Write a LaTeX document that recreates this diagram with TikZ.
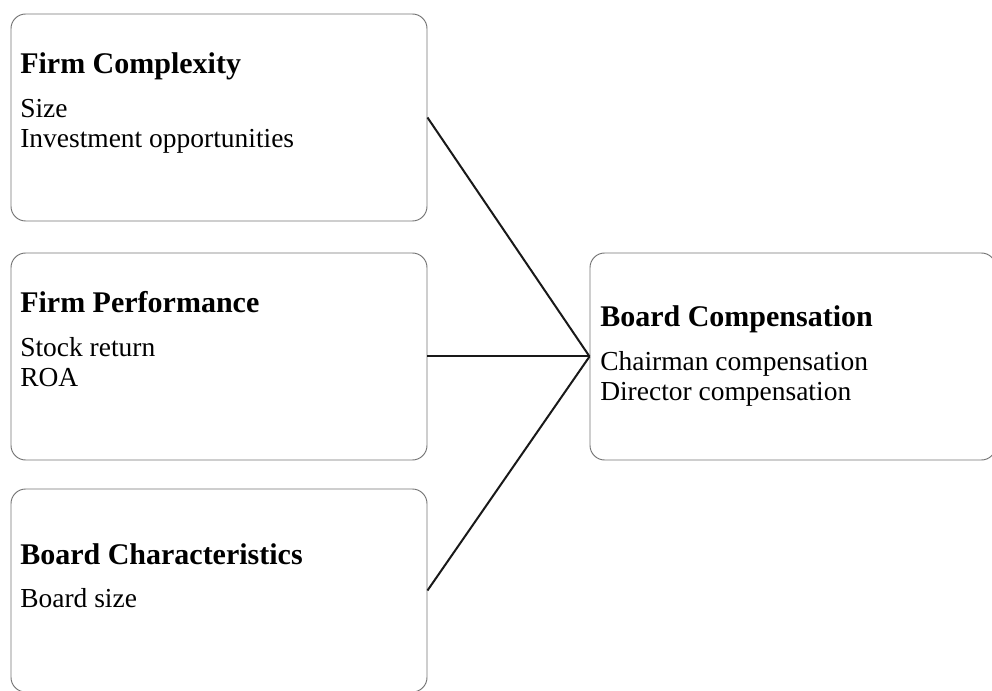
\documentclass[tikz,border=0pt]{standalone}
\usepackage{fontspec}
\setmainfont{Liberation Serif}
\usetikzlibrary{positioning}

\tikzset{
  factor/.style={draw=black!55, line width=0.7pt, rounded corners=11pt, inner sep=0pt,
    minimum width=312pt, minimum height=155.25pt},
  head/.style={anchor=base west, inner sep=0pt, font=\fontsize{22.5}{26}\selectfont\bfseries},
  item/.style={anchor=base west, inner sep=0pt, font=\fontsize{20.6}{24}\selectfont},
  link/.style={line width=1.5pt, draw=black!90}
}

\begin{document}
\begin{tikzpicture}[x=0.75pt,y=0.75pt,yscale=-1,xscale=1]
\useasboundingbox (0,0) rectangle (992,691);

%Boxes
\node[factor] (complex) at (219,117.5) {};
\node[factor] (perform) at (219,356.5) {};
\node[factor, minimum height=152.25pt] (chars) at (219,590.5) {};
\node[factor, minimum width=304.5pt] (comp) at (793,356.5) {};

%Firm complexity
\node[head] (complexhead) at (20,74) {Firm Complexity};
\node[item] (size) at (20,118) {Size};
\node[item] (invest) at (20,148) {Investment opportunities};

%Firm performance
\node[head] (performhead) at (20,313) {Firm Performance};
\node[item] (stock) at (20,357) {Stock return};
\node[item] (roa) at (20,387) {ROA};

%Board characteristics
\node[head] (charshead) at (20,564) {Board Characteristics};
\node[item] (bsize) at (20,607) {Board size};

%Board compensation
\node[head] (comphead) at (600,327) {Board Compensation};
\node[item] (chair) at (600,371) {Chairman compensation};
\node[item] (director) at (600,401) {Director compensation};

%Links
\draw[link] (complex.east) -- (comp.west);
\draw[link] (perform.east) -- (comp.west);
\draw[link] (chars.east) -- (comp.west);

\end{tikzpicture}
\end{document}
